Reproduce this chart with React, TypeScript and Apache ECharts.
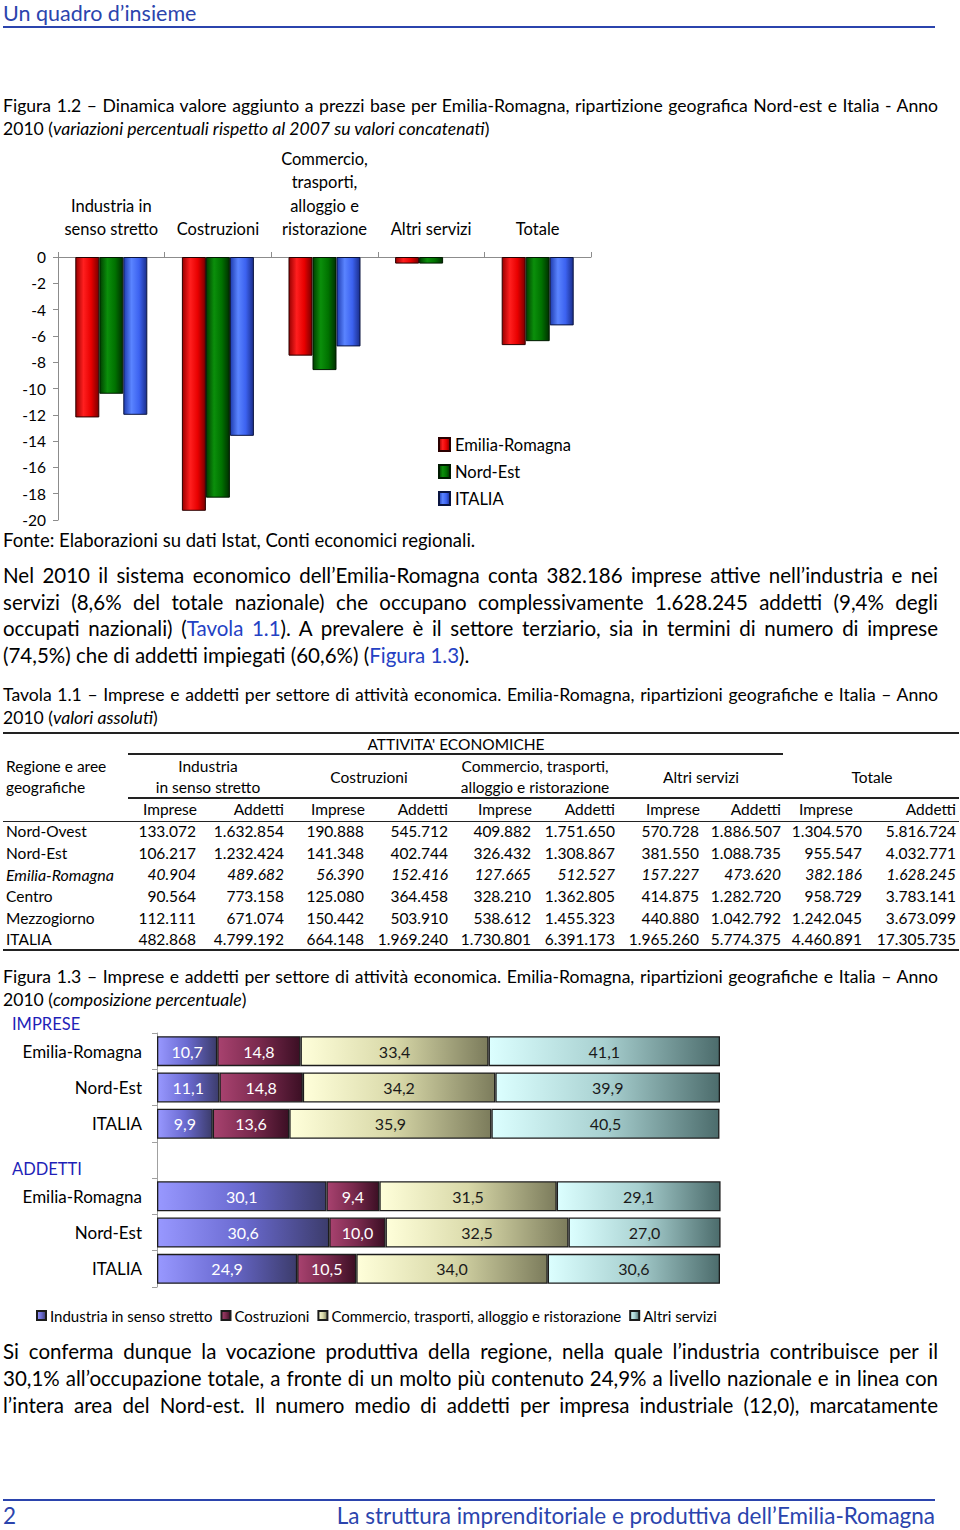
import React, { useEffect, useRef } from 'react';
import * as echarts from 'echarts';

const FONT = 'Lato';
const BLUE = '#2b44ad';
const LINK = '#2441c4';

// ---- Figura 1.2 data (variazioni % 2010 vs 2007) ----
const fig2Categories = [
  'Industria in\nsenso stretto',
  'Costruzioni',
  'Commercio,\ntrasporti,\nalloggio e\nristorazione',
  'Altri servizi',
  'Totale',
];
const emiliaRomagna = [-12.2, -19.3, -7.5, -0.5, -6.7];
const nordEst = [-10.4, -18.3, -8.6, -0.5, -6.4];
const italia = [-12.0, -13.6, -6.8, 0, -5.2];

// ---- Figura 1.3 data (composizione %) ----
const rowLabels = ['Emilia-Romagna', 'Nord-Est', 'ITALIA'];
const impreseIndustria = [10.7, 11.1, 9.9];
const impreseCostruzioni = [14.8, 14.8, 13.6];
const impreseCommercio = [33.4, 34.2, 35.9];
const impreseAltri = [41.1, 39.9, 40.5];
const addettiIndustria = [30.1, 30.6, 24.9];
const addettiCostruzioni = [9.4, 10.0, 10.5];
const addettiCommercio = [31.5, 32.5, 34.0];
const addettiAltri = [29.1, 27.0, 30.6];
const stackSeriesNames = [
  'Industria in senso stretto',
  'Costruzioni',
  'Commercio, trasporti, alloggio e ristorazione',
  'Altri servizi',
];

// ---- Tavola 1.1 data ----
const tableRegions = ['Nord-Ovest', 'Nord-Est', 'Emilia-Romagna', 'Centro', 'Mezzogiorno', 'ITALIA'];
const tableValues = [
  ['133.072', '1.632.854', '190.888', '545.712', '409.882', '1.751.650', '570.728', '1.886.507', '1.304.570', '5.816.724'],
  ['106.217', '1.232.424', '141.348', '402.744', '326.432', '1.308.867', '381.550', '1.088.735', '955.547', '4.032.771'],
  ['40.904', '489.682', '56.390', '152.416', '127.665', '512.527', '157.227', '473.620', '382.186', '1.628.245'],
  ['90.564', '773.158', '125.080', '364.458', '328.210', '1.362.805', '414.875', '1.282.720', '958.729', '3.783.141'],
  ['112.111', '671.074', '150.442', '503.910', '538.612', '1.455.323', '440.880', '1.042.792', '1.242.045', '3.673.099'],
  ['482.868', '4.799.192', '664.148', '1.969.240', '1.730.801', '6.391.173', '1.965.260', '5.774.375', '4.460.891', '17.305.735'],
];

const grad = (stops: string[]) =>
  new echarts.graphic.LinearGradient(
    0, 0, 1, 0,
    stops.map((c, i) => ({ offset: i / (stops.length - 1), color: c }))
  );

function Chart1() {
  const ref = useRef<HTMLDivElement>(null);
  useEffect(() => {
    const chart = echarts.init(ref.current!, null, { renderer: 'svg' });
    const mk = (name: string, data: number[], stops: string[], border: string) => ({
      name,
      type: 'bar',
      data: data.map((v) => (v === 0 ? { value: v, itemStyle: { borderWidth: 0 } } : v)),
      barWidth: 24,
      barGap: '0%',
      itemStyle: { color: grad(stops), borderColor: border, borderWidth: 1 },
    });
    chart.setOption({
      animation: false,
      textStyle: { fontFamily: FONT },
      grid: { left: 58, top: 117, width: 533, height: 263 },
      xAxis: {
        type: 'category',
        position: 'top',
        data: fig2Categories,
        axisLine: { lineStyle: { color: '#8c8c8c' } },
        axisTick: { show: true, length: 5, lineStyle: { color: '#8c8c8c' } },
        axisLabel: { interval: 0, fontSize: 16.5, lineHeight: 23.5, color: '#000', margin: 16, fontFamily: FONT },
      },
      yAxis: {
        type: 'value',
        min: -20,
        max: 0,
        interval: 2,
        axisLine: { show: true, lineStyle: { color: '#8c8c8c' } },
        axisTick: { show: true, length: 5, lineStyle: { color: '#8c8c8c' } },
        splitLine: { show: false },
        axisLabel: { fontSize: 15.5, color: '#000', margin: 12, fontFamily: FONT },
      },
      legend: {
        orient: 'vertical',
        left: 433,
        top: 291,
        itemWidth: 11,
        itemHeight: 13,
        itemGap: 10,
        icon: 'rect',
        textStyle: { fontSize: 16.5, color: '#000', fontFamily: FONT, padding: [0, 0, 0, 0] },
        data: ['Emilia-Romagna', 'Nord-Est', 'ITALIA'],
      },
      series: [
        mk('Emilia-Romagna', emiliaRomagna, ['#9a0000', '#ff1f1f', '#e80000', '#7a0000'], '#2a0000'),
        mk('Nord-Est', nordEst, ['#004000', '#0b8f0b', '#007200', '#003000'], '#001a00'),
        mk('ITALIA', italia, ['#1f3cb0', '#5a84ff', '#3c62f0', '#1a2e8c'], '#0a1440'),
      ],
    });
    return () => chart.dispose();
  }, []);
  return <div ref={ref} style={{ position: 'absolute', left: 0, top: 140, width: 620, height: 395 }} />;
}

function Chart2() {
  const ref = useRef<HTMLDivElement>(null);
  useEffect(() => {
    const chart = echarts.init(ref.current!, null, { renderer: 'svg' });
    const keys = ['i0', 'i1', 'i2', 'gap', 'a0', 'a1', 'a2'];
    const labelOf: Record<string, string> = {
      i0: rowLabels[0], i1: rowLabels[1], i2: rowLabels[2], gap: '',
      a0: rowLabels[0], a1: rowLabels[1], a2: rowLabels[2],
    };
    const join = (a: number[], b: number[]) => [...a, null, ...b];
    const styles = [
      { stops: ['#9898ff', '#6a6ad0', '#3c3c6c'], label: '#ffffff' },
      { stops: ['#a8426f', '#7a2a4e', '#3c0f24'], label: '#ffffff' },
      { stops: ['#ffffda', '#d8d8a8', '#7c7c5c'], label: '#1a1a1a' },
      { stops: ['#dcffff', '#a8d0d0', '#4c6c6c'], label: '#1a1a1a' },
    ];
    const dataSets = [
      join(impreseIndustria, addettiIndustria),
      join(impreseCostruzioni, addettiCostruzioni),
      join(impreseCommercio, addettiCommercio),
      join(impreseAltri, addettiAltri),
    ];
    chart.setOption({
      animation: false,
      textStyle: { fontFamily: FONT },
      grid: { left: 157, top: 23, width: 563, height: 254 },
      xAxis: { type: 'value', min: 0, max: 100, show: false },
      yAxis: {
        type: 'category',
        inverse: true,
        data: keys,
        axisLine: { show: true, lineStyle: { color: '#a0a0a0' } },
        axisTick: { show: true, length: 5, lineStyle: { color: '#a0a0a0' } },
        axisLabel: {
          fontSize: 17,
          color: '#000',
          margin: 15,
          fontFamily: FONT,
          formatter: (v: string) => labelOf[v] ?? '',
        },
      },
      legend: {
        left: 31,
        top: 293,
        itemWidth: 9,
        itemHeight: 9,
        itemGap: 8,
        icon: 'rect',
        textStyle: { fontSize: 15, color: '#000', fontFamily: FONT, padding: [0, 0, 0, -1] },
        data: stackSeriesNames,
      },
      graphic: [
        { type: 'text', left: 12, top: 5, style: { text: 'IMPRESE', fill: '#1f1fb8', font: `16.5px ${FONT}` } },
        { type: 'text', left: 12, top: 150, style: { text: 'ADDETTI', fill: '#1f1fb8', font: `16.5px ${FONT}` } },
      ],
      series: stackSeriesNames.map((name, i) => ({
        name,
        type: 'bar',
        stack: 'tot',
        data: dataSets[i],
        barWidth: 30,
        itemStyle: { color: grad(styles[i].stops), borderColor: '#1c1c1c', borderWidth: 1.3 },
        label: {
          show: true,
          position: 'inside',
          color: styles[i].label,
          fontSize: 16,
          fontFamily: FONT,
          formatter: (p: any) => Number(p.value).toFixed(1).replace('.', ','),
        },
      })),
    });
    return () => chart.dispose();
  }, []);
  return <div ref={ref} style={{ position: 'absolute', left: 0, top: 1010, width: 740, height: 320 }} />;
}

type TProps = {
  x?: number; y: number; size: number; w?: number; align?: 'left' | 'right' | 'center';
  justify?: boolean; color?: string; italic?: boolean; lh?: number; children: React.ReactNode;
};
function T({ x = 3, y, size, w = 935, align = 'left', justify = false, color = '#000', italic = false, lh, children }: TProps) {
  const h = lh ?? Math.round(size * 1.3);
  return (
    <div
      style={{
        position: 'absolute',
        left: x,
        top: y - h / 2,
        width: w,
        height: h,
        lineHeight: `${h}px`,
        fontSize: size,
        textAlign: justify ? 'justify' : align,
        textAlignLast: justify ? 'justify' : undefined,
        whiteSpace: 'nowrap',
        color,
        fontStyle: italic ? 'italic' : 'normal',
      }}
    >
      {children}
    </div>
  );
}

function Rule({ x, y, w, h = 1, color = '#222' }: { x: number; y: number; w: number; h?: number; color?: string }) {
  return <div style={{ position: 'absolute', left: x, top: y - h / 2, width: w, height: h, background: color }} />;
}

const colImpreseRight = [196, 364, 531, 699, 862];
const colAddettiRight = [284, 448, 615, 781, 956];
const rowY = [831, 852.5, 874, 896, 917.5, 939];

function Table() {
  const S = 15.5;
  const cells: React.ReactNode[] = [];
  tableRegions.forEach((r, ri) => {
    const it = r === 'Emilia-Romagna';
    cells.push(<T key={`r${ri}`} x={6} y={rowY[ri]} size={it ? 16 : S} w={125} italic={it}>{r}</T>);
    tableValues[ri].forEach((v, ci) => {
      const k = Math.floor(ci / 2);
      const right = ci % 2 === 0 ? colImpreseRight[k] : colAddettiRight[k];
      cells.push(
        <T key={`c${ri}-${ci}`} x={right - 100} y={rowY[ri]} size={S} w={100} align="right" italic={it}>{v}</T>
      );
    });
  });
  const subRight = [197, 284, 365, 448, 532, 615, 700, 781, 853, 956];
  return (
    <>
      <Rule x={3} y={733} w={956} h={2} />
      <T x={256} y={744} size={S} w={400} align="center">ATTIVITA' ECONOMICHE</T>
      <Rule x={128} y={754} w={655} h={1.5} />
      <T x={6} y={766} size={S} w={130}>Regione e aree</T>
      <T x={6} y={787} size={S} w={130}>geografiche</T>
      <T x={108} y={766} size={S} w={200} align="center">Industria</T>
      <T x={108} y={787} size={S} w={200} align="center">in senso stretto</T>
      <T x={269} y={777} size={S} w={200} align="center">Costruzioni</T>
      <T x={435} y={766} size={S} w={200} align="center">Commercio, trasporti,</T>
      <T x={435} y={787} size={S} w={200} align="center">alloggio e ristorazione</T>
      <T x={601} y={777} size={S} w={200} align="center">Altri servizi</T>
      <T x={772} y={777} size={S} w={200} align="center">Totale</T>
      <Rule x={128} y={798} w={831} h={1.5} />
      {subRight.map((r, i) => (
        <T key={`h${i}`} x={r - 100} y={809} size={S} w={100} align="right">{i % 2 === 0 ? 'Imprese' : 'Addetti'}</T>
      ))}
      <Rule x={3} y={821} w={956} h={1} />
      {cells}
      <Rule x={3} y={950} w={956} h={2.5} />
    </>
  );
}

export default function App() {
  const P = 20.5;
  const C = 17.6;
  return (
    <div
      style={{
        position: 'absolute',
        left: 0,
        top: 0,
        width: 960,
        height: 1530,
        background: '#fff',
        fontFamily: FONT,
        color: '#000',
        overflow: 'hidden',
      }}
    >
      <T y={13} size={21.5} lh={26} color={BLUE}>Un quadro d’insieme</T>
      <Rule x={3} y={27} w={932} h={2.5} color={BLUE} />

      <T y={105} size={C} justify>
        Figura 1.2 – Dinamica valore aggiunto a prezzi base per Emilia-Romagna, ripartizione geografica Nord-est e Italia - Anno
      </T>
      <T y={128} size={C}>
        2010 (<i>variazioni percentuali rispetto al 2007 su valori concatenati</i>)
      </T>

      <Chart1 />

      <T y={540} size={18.5}>Fonte: Elaborazioni su dati Istat, Conti economici regionali.</T>

      <T y={575} size={P} justify>
        Nel 2010 il sistema economico dell’Emilia-Romagna conta 382.186 imprese attive nell’industria e nei
      </T>
      <T y={602} size={P} justify>
        servizi (8,6% del totale nazionale) che occupano complessivamente 1.628.245 addetti (9,4% degli
      </T>
      <T y={628.5} size={P} justify>
        occupati nazionali) (<span style={{ color: LINK }}>Tavola 1.1</span>). A prevalere è il settore terziario, sia in termini di numero di imprese
      </T>
      <T y={655} size={P}>
        (74,5%) che di addetti impiegati (60,6%) (<span style={{ color: LINK }}>Figura 1.3</span>).
      </T>

      <T y={694} size={C} justify>
        Tavola 1.1 – Imprese e addetti per settore di attività economica. Emilia-Romagna, ripartizioni geografiche e Italia – Anno
      </T>
      <T y={717} size={C}>
        2010 (<i>valori assoluti</i>)
      </T>

      <Table />

      <T y={976} size={C} justify>
        Figura 1.3 – Imprese e addetti per settore di attività economica. Emilia-Romagna, ripartizioni geografiche e Italia – Anno
      </T>
      <T y={999} size={C}>
        2010 (<i>composizione percentuale</i>)
      </T>

      <Chart2 />

      <T y={1351} size={P} justify>
        Si conferma dunque la vocazione produttiva della regione, nella quale l’industria contribuisce per il
      </T>
      <T y={1378} size={P} justify>
        30,1% all’occupazione totale, a fronte di un molto più contenuto 24,9% a livello nazionale e in linea con
      </T>
      <T y={1405} size={P} justify>
        l’intera area del Nord-est. Il numero medio di addetti per impresa industriale (12,0), marcatamente
      </T>

      <Rule x={3} y={1500} w={932} h={2.5} color={BLUE} />
      <T y={1515} size={22.5} color={BLUE}>2</T>
      <T x={135} y={1515} size={22.5} w={800} align="right" color={BLUE}>
        La struttura imprenditoriale e produttiva dell’Emilia-Romagna
      </T>
    </div>
  );
}
